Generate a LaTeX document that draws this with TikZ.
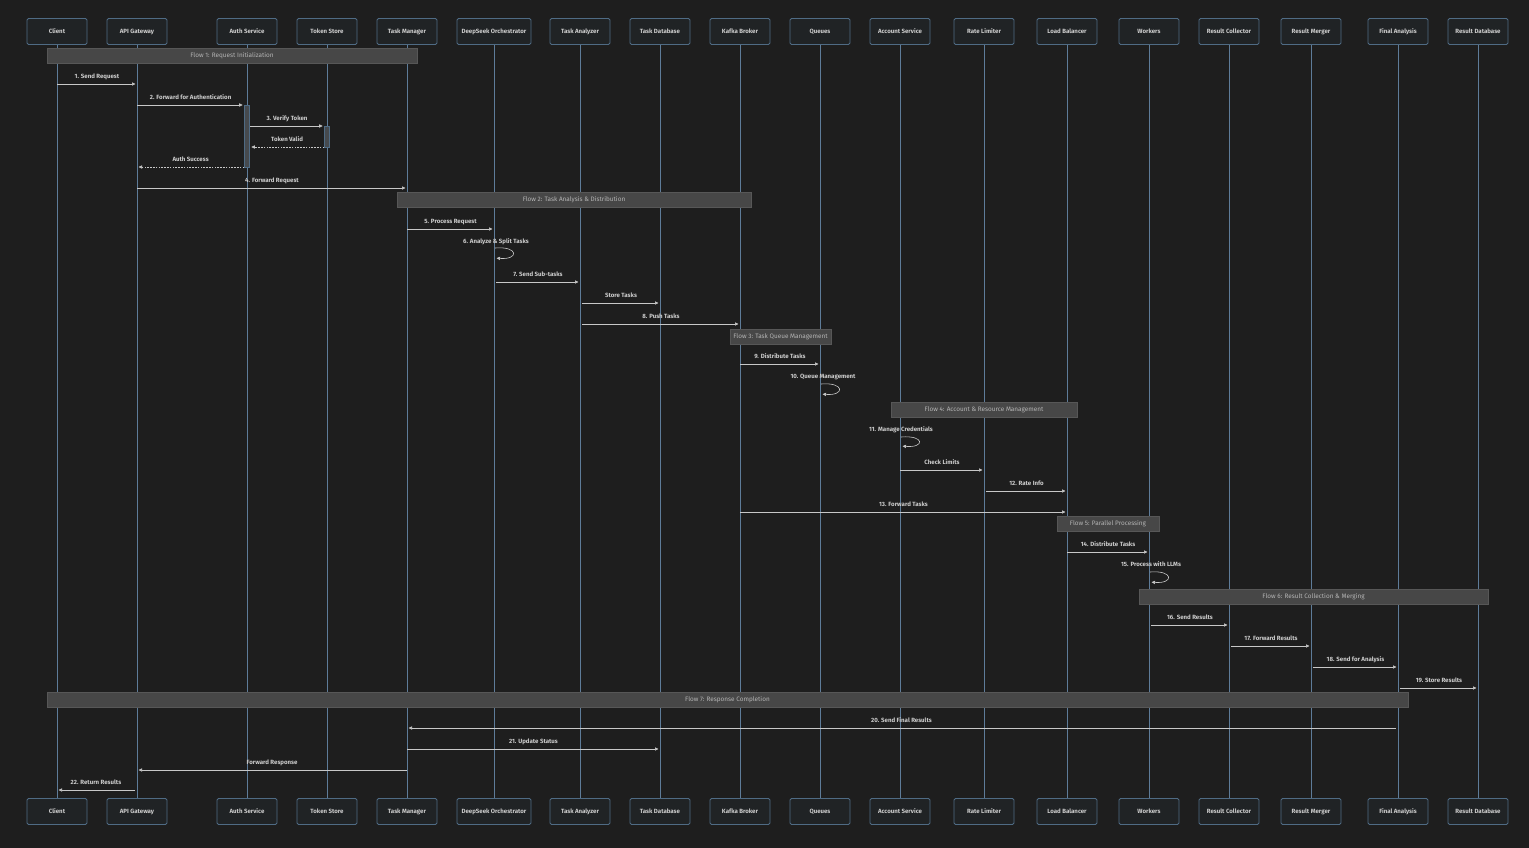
\documentclass[tikz,border=0pt]{standalone}
\usepackage{fontspec}
\setmainfont{Fira Sans}
\usetikzlibrary{arrows.meta, positioning}
\definecolor{bgcol}{HTML}{1E1E1E}
\definecolor{actorfill}{HTML}{202325}
\definecolor{actorline}{HTML}{4F6B84}
\definecolor{lifecol}{HTML}{5E7C99}
\definecolor{txtcol}{HTML}{CCCCCC}
\definecolor{arrowcol}{HTML}{C8C8C8}
\definecolor{flowfill}{HTML}{474747}
\definecolor{flowline}{HTML}{575757}
\definecolor{flowtxt}{HTML}{B4B4B4}
\definecolor{actfill}{HTML}{464A4E}
\begin{document}
\begin{tikzpicture}[
    x=1pt, y=-1pt,
    actor/.style={
        draw=actorline,
        fill=actorfill,
        rounded corners=1.5pt,
        minimum height=26pt,
        line width=0.8pt,
        text=txtcol,
        text height=4.4pt, text depth=1.2pt,
        font=\fontsize{6.1}{7}\selectfont\bfseries
    },
    life/.style={draw=lifecol, line width=1pt},
    flowbox/.style={
        draw=flowline,
        fill=flowfill,
        line width=0.6pt,
        minimum height=15pt,
        text=flowtxt,
        text height=4.6pt, text depth=1.2pt,
        font=\fontsize{6.4}{7}\selectfont
    },
    actbox/.style={draw=actorline, fill=actfill, line width=0.6pt, minimum width=5pt, inner sep=0pt},
    msg/.style={draw=arrowcol, line width=0.6pt, -{Triangle[length=3.5pt,width=3.2pt]}, shorten >=1.5pt},
    reply/.style={msg, dash pattern=on 1.6pt off 1.2pt},
    lbl/.style={text=txtcol, font=\fontsize{6.1}{7}\selectfont\bfseries, text height=4.4pt, text depth=1.2pt, yshift=7.5pt, inner sep=1pt}
]
    % background and page size
    \fill[bgcol] (0,0) rectangle (1529,848);

    % participants, top and bottom, with their lifelines
    \foreach \key/\xx/\lab/\bw in {
        cl/57/Client/60, ag/137/API Gateway/60, au/247/Auth Service/60,
        ts/327/Token Store/60, tm/407/Task Manager/60, dso/494/DeepSeek Orchestrator/74,
        ta/580/Task Analyzer/60, tdb/660/Task Database/60, kb/740/Kafka Broker/60,
        qu/820/Queues/60, acc/900/Account Service/60, rl/984/Rate Limiter/60,
        lb/1067/Load Balancer/60, wk/1149/Workers/60, rc/1229/Result Collector/60,
        rm/1311/Result Merger/60, fa/1398/Final Analysis/60, rdb/1478/Result Database/60}{
        \node[actor, minimum width=\bw pt] (\key) at (\xx,31.5) {\lab};
        \node[actor, minimum width=\bw pt] (\key B) at (\xx,811.5) {\lab};
        \draw[life] (\key.south) -- (\key B.north);
    }

    % flow banners
    \node[flowbox, minimum width=370pt] (flow1) at (232,56) {Flow 1: Request Initialization};
    \node[flowbox, minimum width=354pt] (flow2) at (574,200) {Flow 2: Task Analysis \& Distribution};
    \node[flowbox, minimum width=99pt] (flow3) at (780.5,336.5) {Flow 3: Task Queue Management};
    \node[flowbox, minimum width=186pt] (flow4) at (984,409.5) {Flow 4: Account \& Resource Management};
    \node[flowbox, minimum width=102pt] (flow5) at (1108,523.5) {Flow 5: Parallel Processing};
    \node[flowbox, minimum width=349pt] (flow6) at (1313.5,597) {Flow 6: Result Collection \& Merging};
    \node[flowbox, minimum width=1361pt] (flow7) at (727.5,700) {Flow 7: Response Completion};

    % activations
    \node[actbox, minimum height=62pt] (auA) at (au |- 0,136) {};
    \node[actbox, minimum height=21pt] (tsA) at (ts |- 0,136.5) {};

    % flow 1
    \draw[msg] (cl |- 0,84) -- node[lbl] {1. Send Request} (ag |- 0,84);
    \draw[msg] (ag |- 0,105) -- node[lbl] {2. Forward for Authentication} (auA.west |- 0,105);
    \draw[msg] (auA.east |- 0,126) -- node[lbl] {3. Verify Token} (tsA.west |- 0,126);
    \draw[reply] (tsA.west |- 0,147) -- node[lbl] {Token Valid} (auA.east |- 0,147);
    \draw[reply] (auA.west |- 0,167) -- node[lbl] {Auth Success} (ag |- 0,167);
    \draw[msg] (ag |- 0,188) -- node[lbl] {4. Forward Request} (tm |- 0,188);

    % flow 2
    \draw[msg] (tm |- 0,229) -- node[lbl] {5. Process Request} (dso |- 0,229);
    \node[lbl] (lbl6) at ([xshift=2pt]dso |- 0,249) {6. Analyze \& Split Tasks};
    \draw[msg] ([xshift=1pt]dso |- 0,248) .. controls +(24,-2) and +(24,2) .. ([xshift=1pt]dso |- 0,258);
    \draw[msg] ([xshift=2pt]dso |- 0,282) -- node[lbl] {7. Send Sub-tasks} (ta |- 0,282);
    \draw[msg] ([xshift=2pt]ta |- 0,303) -- node[lbl] {Store Tasks} (tdb |- 0,303);
    \draw[msg] ([xshift=2pt]ta |- 0,324) -- node[lbl] {8. Push Tasks} (kb |- 0,324);

    % flow 3
    \draw[msg] (kb |- 0,364) -- node[lbl] {9. Distribute Tasks} (qu |- 0,364);
    \node[lbl] (lbl10) at ([xshift=3pt]qu |- 0,384) {10. Queue Management};
    \draw[msg] ([xshift=1pt]qu |- 0,384) .. controls +(24,-2) and +(24,2) .. ([xshift=1pt]qu |- 0,394);

    % flow 4
    \node[lbl] (lbl11) at ([xshift=1pt]acc |- 0,437) {11. Manage Credentials};
    \draw[msg] ([xshift=1pt]acc |- 0,437) .. controls +(24,-2) and +(24,2) .. ([xshift=1pt]acc |- 0,446);
    \draw[msg] (acc |- 0,470) -- node[lbl] {Check Limits} (rl |- 0,470);
    \draw[msg] ([xshift=2pt]rl |- 0,491) -- node[lbl] {12. Rate Info} (lb |- 0,491);
    \draw[msg] (kb |- 0,512) -- node[lbl] {13. Forward Tasks} (lb |- 0,512);

    % flow 5
    \draw[msg] (lb |- 0,552) -- node[lbl] {14. Distribute Tasks} (wk |- 0,552);
    \node[lbl] (lbl15) at ([xshift=2pt]wk |- 0,572) {15. Process with LLMs};
    \draw[msg] ([xshift=1pt]wk |- 0,572) .. controls +(24,-2) and +(24,2) .. ([xshift=1pt]wk |- 0,582);

    % flow 6
    \draw[msg] ([xshift=2pt]wk |- 0,625) -- node[lbl] {16. Send Results} (rc |- 0,625);
    \draw[msg] ([xshift=2pt]rc |- 0,646) -- node[lbl] {17. Forward Results} (rm |- 0,646);
    \draw[msg] ([xshift=2pt]rm |- 0,667) -- node[lbl] {18. Send for Analysis} (fa |- 0,667);
    \draw[msg] ([xshift=2pt]fa |- 0,688) -- node[lbl] {19. Store Results} (rdb |- 0,688);

    % flow 7
    \draw[msg] ([xshift=-2pt]fa |- 0,728) -- node[lbl] {20. Send Final Results} (tm |- 0,728);
    \draw[msg] (tm |- 0,749) -- node[lbl] {21. Update Status} (tdb |- 0,749);
    \draw[msg] (tm |- 0,770) -- node[lbl] {Forward Response} (ag |- 0,770);
    \draw[msg] ([xshift=-2pt]ag |- 0,790) -- node[lbl] {22. Return Results} (cl |- 0,790);
\end{tikzpicture}
\end{document}
